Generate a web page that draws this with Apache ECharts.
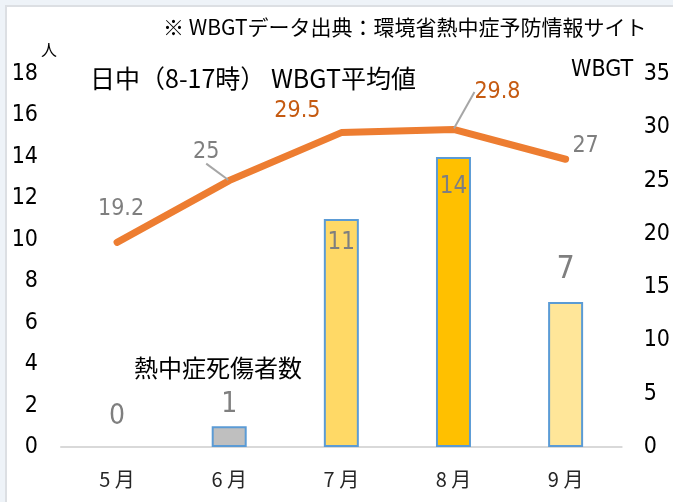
<!doctype html>
<html>
<head>
<meta charset="UTF-8">
<title>熱中症死傷者数とWBGT</title>
<script src="https://cdn.jsdelivr.net/npm/echarts@6/dist/echarts.min.js"></script>
<style>
*{margin:0;padding:0;}
html,body{width:673px;height:502px;overflow:hidden;background:#eef3f8;}
#main{width:673px;height:502px;}
</style>
</head>
<body>
<div id="main"></div>
<script>
// 月別
var months = ['5 月', '6 月', '7 月', '8 月', '9 月'];
// 熱中症死傷者数（人）
var casualties = [0, 1, 11, 14, 7];
// 日中（8-17時） WBGT平均値
var wbgt = [19.2, 25, 29.5, 29.8, 27];
var barColors = ['#bfbfbf', '#bfbfbf', '#ffd966', '#ffc000', '#ffe699'];
var leftTicks = [0, 18, 2];
var rightTicks = [0, 35, 5];

var numFont = '"DejaVu Sans Condensed", "Noto Sans CJK JP", sans-serif';
var jpFont = '"Noto Sans CJK JP", sans-serif';

// ラベルの見た目（位置は各データ項目側）
var barLabel = [
  {fontSize: 28, position: 'top', distance: 16},
  {fontSize: 28, position: 'top', distance: 8},
  {fontSize: 24, position: 'insideTop', distance: 12},
  {fontSize: 24, position: 'insideTop', distance: 18},
  {fontSize: 32, position: 'top', distance: 16}
];
var lineLabel = [
  {color: '#7f7f7f', dx: 4, dy: -21},
  {color: '#7f7f7f', dx: -23, dy: -16, guide: true},
  {color: '#c55a11', dx: -44, dy: -9},
  {color: '#c55a11', dx: 44, dy: -25, guide: true},
  {color: '#7f7f7f', dx: 20, dy: -1}
];

var myChart = echarts.init(document.getElementById('main'));
var option = {
  animation: false,
  textStyle: {fontFamily: numFont},
  grid: {left: 61, right: 47, top: 74, bottom: 55},
  graphic: [
    {type: 'rect', z: -10, shape: {x: 6, y: 6, width: 680, height: 510},
      style: {fill: '#fff', stroke: '#dcdfe3', lineWidth: 2}},
    {type: 'text', left: 163, top: 17,
      style: {text: '※ WBGTデータ出典：環境省熱中症予防情報サイト', font: '21px ' + jpFont, fill: '#000'}},
    {type: 'text', left: 41, top: 42,
      style: {text: '人', font: '16px ' + jpFont, fill: '#000'}},
    {type: 'text', left: 90, top: 66,
      style: {text: '日中（8-17時） WBGT平均値', font: '25px ' + jpFont, fill: '#000'}},
    {type: 'text', left: 571, top: 59,
      style: {text: 'WBGT', font: '23px ' + numFont, fill: '#000'}},
    {type: 'text', left: 134, top: 356,
      style: {text: '熱中症死傷者数', font: '24px ' + jpFont, fill: '#000'}}
  ],
  xAxis: {
    type: 'category',
    data: months,
    axisLine: {lineStyle: {color: '#d9d9d9', width: 2}},
    axisTick: {show: false},
    axisLabel: {fontFamily: jpFont, fontSize: 20, color: '#262626', margin: 22}
  },
  yAxis: [
    {type: 'value', min: leftTicks[0], max: leftTicks[1], interval: leftTicks[2],
      splitLine: {show: false}, axisLine: {show: false},
      axisLabel: {fontSize: 23, color: '#000', margin: 23}},
    {type: 'value', min: rightTicks[0], max: rightTicks[1], interval: rightTicks[2],
      splitLine: {show: false}, axisLine: {show: false},
      axisLabel: {fontSize: 23, color: '#000', margin: 22}}
  ],
  series: [
    {
      type: 'bar',
      barWidth: 35,
      data: casualties.map(function (v, i) {
        return {
          value: v,
          itemStyle: {color: barColors[i], borderColor: '#5b9bd5', borderWidth: v ? 2 : 0},
          label: {show: true, position: barLabel[i].position, distance: barLabel[i].distance,
            fontSize: barLabel[i].fontSize, color: '#7f7f7f', fontFamily: numFont}
        };
      })
    },
    {
      type: 'line',
      yAxisIndex: 1,
      symbol: 'circle',
      symbolSize: 2,
      lineStyle: {color: '#ed7d31', width: 7, cap: 'round', join: 'round'},
      itemStyle: {color: '#ed7d31'},
      data: wbgt.map(function (v, i) {
        return {
          value: v,
          label: {show: true, position: 'top', distance: 0, fontSize: 23,
            color: lineLabel[i].color, fontFamily: numFont},
          labelLine: {show: !!lineLabel[i].guide, lineStyle: {color: '#a6a6a6', width: 2}}
        };
      }),
      labelLayout: function (p) {
        var l = lineLabel[p.dataIndex];
        return {dx: l.dx, dy: l.dy};
      }
    }
  ]
};
myChart.setOption(option);
</script>
</body>
</html>
